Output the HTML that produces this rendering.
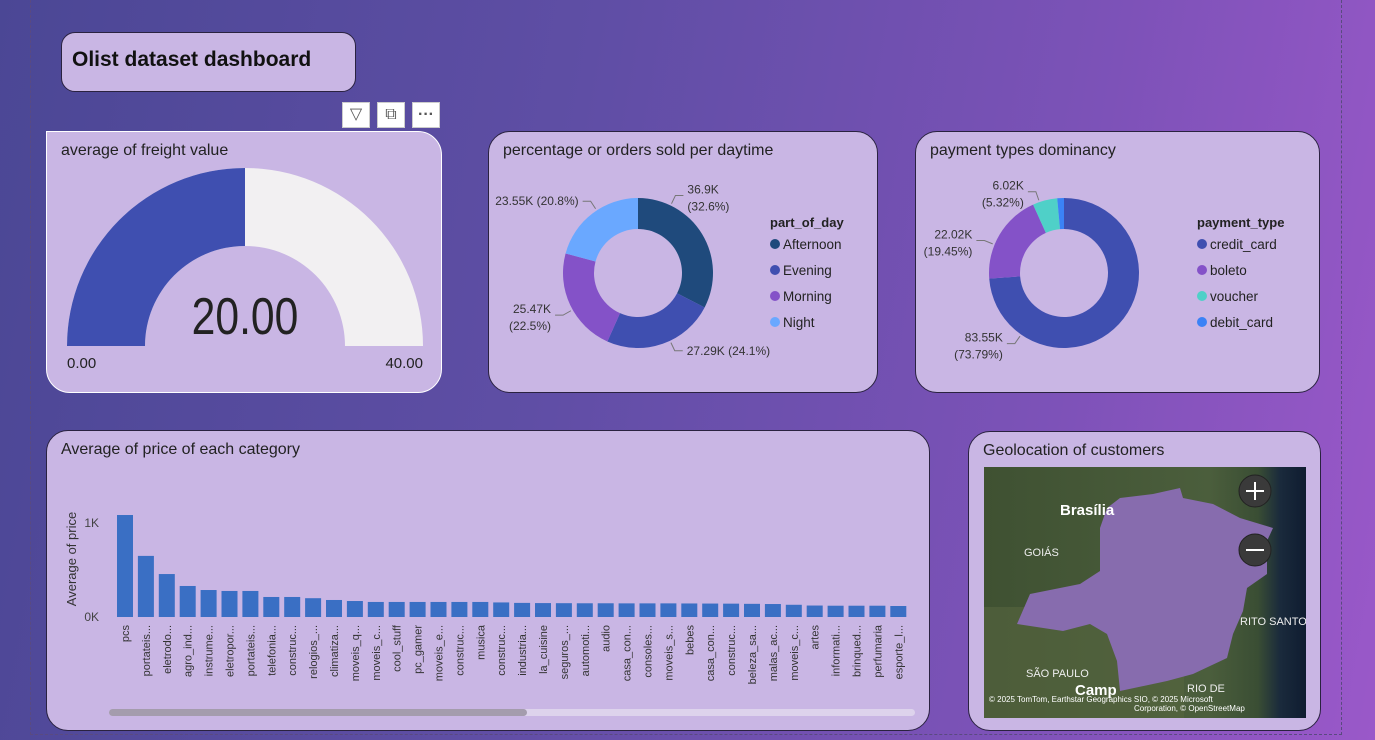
<!DOCTYPE html>
<html><head><meta charset="utf-8">
<style>
body{margin:0;width:1375px;height:740px;overflow:hidden;font-family:"Liberation Sans","DejaVu Sans",sans-serif;
background:linear-gradient(100deg,#4b4795 0%,#5f4ea5 40%,#7d52b8 75%,#9a58c9 100%);position:relative}
.panel{position:absolute;background:#c9b6e4;border:1px solid #2a2240;border-radius:22px;box-sizing:border-box}
.ttl{position:absolute;left:14px;top:10px;font-size:16px;color:#222}
svg text{font-family:"Liberation Sans","DejaVu Sans",sans-serif}
.dash{position:absolute;left:30px;top:0;width:1312px;height:735px;border:1px dashed #5a4a80;border-top:none;box-sizing:border-box}
.tb{position:absolute;top:102px;width:28px;height:26px;background:#fff;border:1px solid #ccc;box-sizing:border-box;color:#555;font-size:16px;text-align:center;line-height:24px}
</style></head><body>
<div class="dash"></div>
<div class="panel" style="left:61px;top:32px;width:295px;height:60px;border-radius:14px">
<div style="position:absolute;left:10px;top:15px;font-size:21px;font-weight:bold;color:#111">Olist dataset dashboard</div></div>
<div class="tb" style="left:342px">&#9661;</div>
<div class="tb" style="left:377px">&#10697;</div>
<div class="tb" style="left:412px;font-weight:bold">&middot;&middot;&middot;</div>

<div class="panel" style="left:46px;top:131px;width:396px;height:262px;border-color:#fff;border-radius:0 24px 24px 24px">
<div class="ttl">average of freight value</div>
<svg width="396" height="262" style="position:absolute;left:0;top:0" id="gsvg"></svg>
</div>

<div class="panel" style="left:488px;top:131px;width:390px;height:262px">
<div class="ttl">percentage or orders sold per daytime</div>
<svg width="390" height="262" style="position:absolute;left:0;top:0" id="d1"></svg>
</div>

<div class="panel" style="left:915px;top:131px;width:405px;height:262px">
<div class="ttl">payment types dominancy</div>
<svg width="405" height="262" style="position:absolute;left:0;top:0" id="d2"></svg>
</div>

<div class="panel" style="left:46px;top:430px;width:884px;height:301px">
<div class="ttl">Average of price of each category</div>
<svg width="884" height="301" style="position:absolute;left:0;top:0" id="bsvg"></svg>
</div>

<div class="panel" style="left:968px;top:431px;width:353px;height:300px">
<div class="ttl">Geolocation of customers</div>
<svg width="322" height="251" style="position:absolute;left:15px;top:35px">
<defs><linearGradient id="sea" x1="0" x2="1"><stop offset="0" stop-color="#3f5132"/><stop offset="0.7" stop-color="#4b5e3c"/><stop offset="0.85" stop-color="#3a4e34"/><stop offset="0.92" stop-color="#1a2a3c"/><stop offset="1" stop-color="#0f1c30"/></linearGradient></defs>
<rect width="322" height="251" fill="url(#sea)"/>
<rect x="0" y="140" width="200" height="111" fill="#56663f" opacity="0.6"/>
<polygon fill="#876cae" points="123,41 136,31 169,27 196,21 199,31 229,37 256,51 289,61 283,74 283,107 263,121 259,144 249,167 243,191 209,207 183,214 136,224 133,194 123,167 106,157 79,164 33,157 46,127 96,117 116,104 116,61"/>
<text x="76" y="48" fill="#fff" font-size="15" font-weight="bold">Brasília</text>
<text x="40" y="89" fill="#eee" font-size="11">GOIÁS</text>
<text x="42" y="210" fill="#eee" font-size="11">SÃO PAULO</text>
<text x="256" y="158" fill="#eee" font-size="11">RITO SANTO</text>
<text x="91" y="228" fill="#fff" font-size="15" font-weight="bold">Camp</text>
<text x="203" y="225" fill="#eee" font-size="11">RIO DE</text>
<text x="5" y="235" fill="#fff" font-size="8">© 2025 TomTom, Earthstar Geographics SIO, © 2025 Microsoft</text>
<text x="150" y="244" fill="#fff" font-size="8">Corporation, © OpenStreetMap</text>
<g><circle cx="271" cy="24" r="16" fill="#3a3a3a" stroke="#222"/><path d="M262 24h18M271 15v18" stroke="#fff" stroke-width="2"/></g>
<g><circle cx="271" cy="83" r="16" fill="#3a3a3a" stroke="#222"/><path d="M262 83h18" stroke="#fff" stroke-width="2"/></g>
</svg>
</div>

<script>
var NS="http://www.w3.org/2000/svg";
function mk(p,t,a){var e=document.createElementNS(NS,t);for(var k in a)e.setAttribute(k,a[k]);p.appendChild(e);return e;}
function arc(cx,cy,r0,r1,a0,a1){var f=function(r,a){return [cx+r*Math.sin(a),cy-r*Math.cos(a)]};var l=(a1-a0)>Math.PI?1:0;
var p1=f(r1,a0),p2=f(r1,a1),p3=f(r0,a1),p4=f(r0,a0);
return "M"+p1+"A"+r1+","+r1+" 0 "+l+" 1 "+p2+"L"+p3+"A"+r0+","+r0+" 0 "+l+" 0 "+p4+"Z";}

// gauge
var gaugeValue=20, gaugeMin=0, gaugeMax=40;
(function(){var s=document.getElementById('gsvg');var cx=198,cy=214,R=178,r=100;
var bg=mk(s,'path',{d:arc(cx,cy,r,R,-Math.PI/2,Math.PI/2),fill:'#f2f0f2'});


var a=-Math.PI/2+Math.PI*(gaugeValue-gaugeMin)/(gaugeMax-gaugeMin);
var fg=mk(s,'path',{d:arc(cx,cy,r,R,-Math.PI/2,a),fill:'#3f4fb0'});


var t=mk(s,'text',{x:0,y:0,'font-size':52,'text-anchor':'middle',fill:'#222',transform:'translate('+cx+',202) scale(0.82,1)'});t.textContent=gaugeValue.toFixed(2);


var t1=mk(s,'text',{x:20,y:236,'font-size':15,fill:'#222'});t1.textContent=gaugeMin.toFixed(2);
var t2=mk(s,'text',{x:376,y:236,'font-size':15,fill:'#222','text-anchor':'end'});t2.textContent=gaugeMax.toFixed(2);
})();

// donut 1
var dayCats=["Afternoon","Evening","Morning","Night"];
var dayVals=[36.9,27.29,25.47,23.55];
var dayLabels=["36.9K|(32.6%)","27.29K (24.1%)","25.47K|(22.5%)","23.55K (20.8%)"];
var dayColors=["#1f4a7c","#3f4fb0","#8452c8","#6aa8ff"];
// donut 2
var payCats=["credit_card","boleto","voucher","debit_card"];
var payVals=[83.55,22.02,6.02,1.63];
var payLabels=["83.55K|(73.79%)","22.02K|(19.45%)","6.02K|(5.32%)",""];
var payColors=["#3f4fb0","#8452c8","#4fd0c8","#3b82f6"];

function donut(id,cx,cy,cats,vals,labels,colors,legTitle,lx,nm,labAng){
 var s=document.getElementById(id);var tot=vals.reduce(function(a,b){return a+b},0);var a=0;
 for(var i=0;i<vals.length;i++){var a1=a+2*Math.PI*vals[i]/tot;
  var p=mk(s,'path',{d:arc(cx,cy,44,75,a,a1),fill:colors[i]});
  
  
  if(labels[i]){var m=labAng&&labAng[i]!=null?labAng[i]:(a+a1)/2;var x1=cx+77*Math.sin(m),y1=cy-77*Math.cos(m),x2=cx+86*Math.sin(m),y2=cy-86*Math.cos(m);
   var right=Math.sin(m)>=0;var x3=x2+(right?8:-8);
   mk(s,'polyline',{points:x1+","+y1+" "+x2+","+y2+" "+x3+","+y2,fill:'none',stroke:'#777'});
   var parts=labels[i].split('|');
   for(var j=0;j<parts.length;j++){var t=mk(s,'text',{x:x3+(right?4:-4),y:y2+4+(parts.length>1?(j*17-6):0),'font-size':12,fill:'#333','text-anchor':right?'start':'end'});t.textContent=parts[j];}
  }
  a=a1;}
 var lt=mk(s,'text',{x:lx,y:95,'font-size':13,'font-weight':'bold',fill:'#222'});lt.textContent=legTitle;
 for(var i=0;i<cats.length;i++){var c=mk(s,'circle',{cx:lx+5,cy:112+i*26,r:5,fill:colors[i]});
  var t=mk(s,'text',{x:lx+13,y:117+i*26,'font-size':13.5,fill:'#222'});t.textContent=cats[i];
  
  }
}
donut('d1',149,141,dayCats,dayVals,dayLabels,dayColors,'part_of_day',281,'daytime',[0.45,2.7,4.2,5.7]);
donut('d2',148,141,payCats,payVals,payLabels,payColors,'payment_type',281,'payment',[3.75,5.1,5.95,null]);

// bars
var barCats=["pcs","portateis...","eletrodo...","agro_ind...","instrume...","eletropor...","portateis...","telefonia...","construc...","relogios_...","climatiza...","moveis_q...","moveis_c...","cool_stuff","pc_gamer","moveis_e...","construc...","musica","construc...","industria...","la_cuisine","seguros_...","automoti...","audio","casa_con...","consoles...","moveis_s...","bebes","casa_con...","construc...","beleza_sa...","malas_ac...","moveis_c...","artes","informati...","brinqued...","perfumaria","esporte_l..."];
var barVals=[1085,650,457,330,287,277,277,213,213,200,181,170,160,160,160,160,160,160,155,150,148,147,146,146,145,145,145,144,143,142,140,138,130,122,120,120,120,117];
var yTicks=[0,1000];var yTickLabels=["0K","1K"];
(function(){var s=document.getElementById('bsvg');var x0=70,pitch=20.9,bw=16,y0=186,k=94/1000;
function X(i){return x0+i*pitch;}function Y(v){return y0-v*k;}
for(var i=0;i<yTicks.length;i++){var t=mk(s,'text',{x:52,y:Y(yTicks[i])+4,'font-size':12,fill:'#444','text-anchor':'end'});t.textContent=yTickLabels[i];}
var yt=mk(s,'text',{x:0,y:0,'font-size':13,fill:'#333','text-anchor':'middle',transform:'translate(29,128) rotate(-90)'});yt.textContent='Average of price';


for(var i=0;i<barVals.length;i++){var r=mk(s,'rect',{x:X(i),y:Y(barVals[i]),width:bw,height:barVals[i]*k,fill:'#3a6fc4'});
 
 
 var t=mk(s,'text',{x:0,y:0,'font-size':11,fill:'#333','text-anchor':'end',transform:'translate('+(X(i)+bw/2+4)+','+(y0+8)+') rotate(-90)'});t.textContent=barCats[i];}
var sb=mk(s,'rect',{x:62,y:278,width:806,height:7,rx:3.5,fill:'#ddd3ec'});


var th=mk(s,'rect',{x:62,y:278,width:418,height:7,rx:3.5,fill:'#a49cad'});


})();
</script>
</body></html>
